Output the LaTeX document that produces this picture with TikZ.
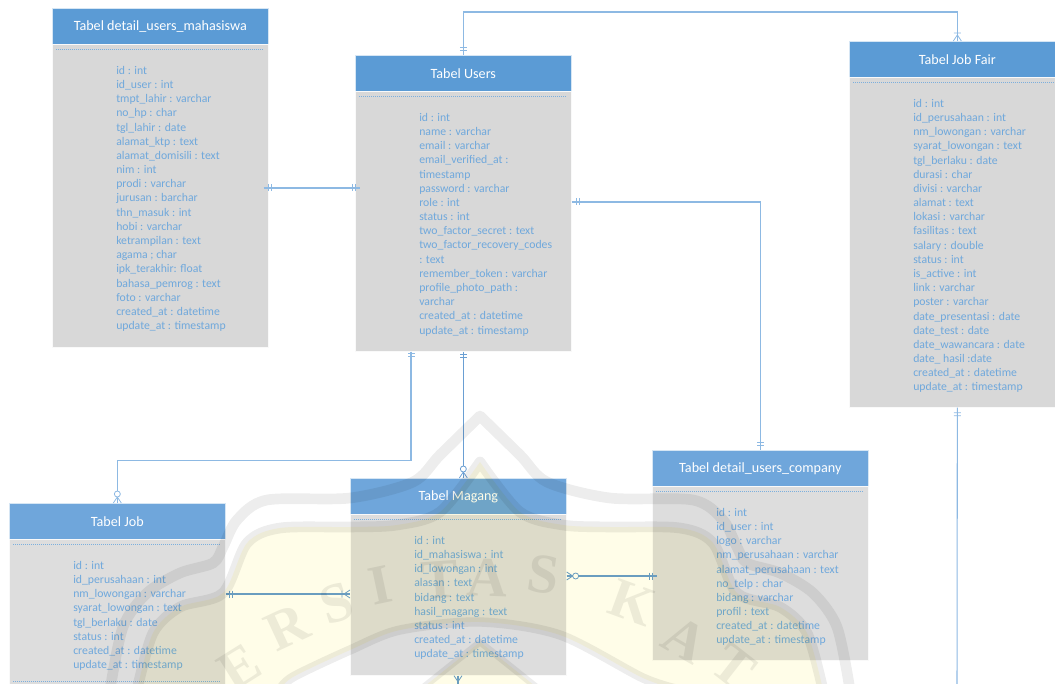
\documentclass[tikz,border=0pt]{standalone}
\usepackage{fontspec}
\setmainfont{Carlito}
\newfontfamily\wmfont{Liberation Serif}
\usetikzlibrary{decorations.markings}
\definecolor{headblue}{HTML}{5B9BD5}
\definecolor{headlight}{HTML}{6FA6DB}
\definecolor{bodygray}{HTML}{D8D8D8}
\definecolor{bodylight}{HTML}{DDDDDD}
\definecolor{rowblue}{HTML}{6FA8DC}
\definecolor{linkblue}{HTML}{8DB9E3}
\definecolor{linkdark}{HTML}{6A9FD3}
\definecolor{wmgray}{HTML}{EDEDED}
\definecolor{wmyellow}{HTML}{FFFDE8}
\tikzset{
    tabelhead/.style={fill=#1,draw=white!75!headblue,line width=.5pt,text=white,minimum width=162pt,minimum height=27pt,inner sep=0pt,anchor=north west,font=\fontsize{10.6}{12}\selectfont},
    tabelbody/.style={fill=#1,draw=white!85!bodygray,line width=.5pt,minimum width=162pt,inner sep=0pt,anchor=north west},
    tabelrows/.style={text=rowblue,align=left,anchor=north west,inner sep=0pt,font=\fontsize{8.8}{10.63}\selectfont},
    sep/.style={headblue!80,line width=.5pt,densely dotted},
    rel/.style={linkblue,line width=.8pt},
    reldark/.style={linkdark,line width=.8pt},
    relmark/.style={line width=.6pt},
    onestart/.style={postaction={decorate,decoration={markings,mark=at position #1 with {\draw[relmark] (0,-3.5)--(0,3.5) (3,-3.5)--(3,3.5);}}}},
    onestart/.default=3.75pt,
    oneend/.style={postaction={decorate,decoration={markings,mark=at position -#1 with {\draw[relmark] (0,-3.5)--(0,3.5) (-3,-3.5)--(-3,3.5);}}}},
    oneend/.default=3.75pt,
    onemanyend/.style={postaction={decorate,decoration={markings,mark=at position -4.5pt with {\draw[relmark] (0,0)--(6,-4) (0,0)--(6,4) (-2,-3.5)--(-2,3.5);}}}},
    zeromanyend/.style={postaction={decorate,decoration={markings,mark=at position -4.5pt with {\draw[relmark] (0,0)--(6,-4) (0,0)--(6,4); \draw[relmark,fill=white] (-3,0) circle(3);}}}},
    zeromanystart/.style={postaction={decorate,decoration={markings,mark=at position 4.5pt with {\draw[relmark] (0,0)--(-6,-4) (0,0)--(-6,4); \draw[relmark,fill=white] (3,0) circle(3);}}}},
    manystart/.style={postaction={decorate,decoration={markings,mark=at position 4.5pt with {\draw[relmark] (0,0)--(-6,-4) (0,0)--(-6,4);}}}},
    wmband/.style={wmgray,line width=8pt,line join=round},
    wmletter/.style={text=wmgray,font=\wmfont\bfseries\fontsize{42}{42}\selectfont,inner sep=0pt},
}
% name, x, y of header, height of body, head colour, body colour, title, rows
\newcommand{\tabel}[8]{
    \node[tabelhead=#5] (#1head) at (#2,#3) {#7};
    \node[tabelbody=#6,minimum height=#4*.75pt] (#1body) at (#2,#3+36) {};
    \draw[sep] (#2+4,#3+41) -- (#2+212,#3+41);
    \node[tabelrows] (#1rows) at (#2+64,#3+58) {#8};
}
\begin{document}
\begin{tikzpicture}[x=.75pt,y=-.75pt]
    \useasboundingbox (0,0) rectangle (1055,684);
    \tabel{mhs}{52}{8}{303}{headblue}{bodygray}{Tabel detail\_users\_mahasiswa}{id : int\\id\_user : int\\tmpt\_lahir : varchar\\no\_hp : char\\tgl\_lahir : date\\alamat\_ktp : text\\alamat\_domisili : text\\nim : int\\prodi : varchar\\jurusan : barchar\\thn\_masuk : int\\hobi : varchar\\ketrampilan : text\\agama ; char\\ipk\_terakhir: float\\bahasa\_pemrog : text\\foto : varchar\\created\_at : datetime\\update\_at : timestamp}
    \tabel{users}{355}{55}{260}{headblue}{bodygray}{Tabel Users}{id : int\\name : varchar\\email : varchar\\email\_verified\_at :\\timestamp\\password : varchar\\role : int\\status : int\\two\_factor\_secret : text\\two\_factor\_recovery\_codes\\: text\\remember\_token : varchar\\profile\_photo\_path :\\varchar\\created\_at : datetime\\update\_at : timestamp}
    \tabel{fair}{849}{41}{330}{headblue}{bodygray}{Tabel Job Fair}{id : int\\id\_perusahaan : int\\nm\_lowongan : varchar\\syarat\_lowongan : text\\tgl\_berlaku : date\\durasi : char\\divisi : varchar\\alamat : text\\lokasi : varchar\\fasilitas : text\\salary : double\\status : int\\is\_active : int\\link : varchar\\poster : varchar\\date\_presentasi : date\\date\_test : date\\date\_wawancara : date\\date\_ hasil :date\\created\_at : datetime\\update\_at : timestamp}
    \tabel{job}{9}{503}{150}{headlight}{bodylight}{Tabel Job}{id : int\\id\_perusahaan : int\\nm\_lowongan : varchar\\syarat\_lowongan : text\\tgl\_berlaku : date\\status : int\\created\_at : datetime\\update\_at : timestamp}
    \tabel{magang}{350}{478}{161}{headlight}{bodylight}{Tabel Magang}{id : int\\id\_mahasiswa : int\\id\_lowongan : int\\alasan : text\\bidang : text\\hasil\_magang : text\\status : int\\created\_at : datetime\\update\_at : timestamp}
    \tabel{company}{652}{450}{174}{headlight}{bodylight}{Tabel detail\_users\_company}{id : int\\id\_user : int\\logo : varchar\\nm\_perusahaan : varchar\\alamat\_perusahaan : text\\no\_telp : char\\bidang : varchar\\profil : text\\created\_at : datetime\\update\_at : timestamp}
    \draw[sep] (13,681) -- (221,681);
    \coordinate (fairend) at (957,684);
    \coordinate (magangend) at (458,684);
    \draw[rel,onestart,oneend] ([xshift=-3.75pt]mhsbody.east |- 0,188) -- ([xshift=3.75pt]usersbody.west |- 0,188);
    \draw[rel,onestart,onemanyend] (usershead.north) -- ++(0,-43) -| (fairhead.north);
    \draw[rel,onestart,oneend] (usersbody.east |- 0,202) -| (companyhead.north);
    \draw[reldark,onestart=2pt,zeromanyend] (usersbody.south) -- (usersbody.south |- 0,478);
    \draw[rel,onestart=1pt,zeromanyend] (usersbody.south -| 411,0) -- ++(0,109) -| (jobhead.north);
    \draw[reldark,onestart=2.5pt,onemanyend] (jobbody.east |- 0,594) -- (magangbody.west |- 0,594);
    \draw[reldark,zeromanystart,oneend] (magangbody.east |- 0,576) -- ([xshift=3.75pt]companybody.west |- 0,576);
    \draw[rel,onestart] (fairbody.south) -- (fairend);
    \draw[reldark,manystart] (magangbody.south -| magangend) -- (magangend);
    % watermark
    \begin{scope}[blend mode=multiply]
        \fill[wmyellow] plot[smooth] coordinates {(137,690) (153,633) (180,607) (223,593) (247,543) (280,528) (350,527) (397,525) (440,512) (480,462)}
            -- plot[smooth] coordinates {(480,462) (520,512) (563,525) (610,527) (680,528) (713,543) (737,593) (780,607) (807,633) (823,690)}
            -- plot[smooth] coordinates {(680,690) (643,678) (560,635) (480,622) (400,630) (350,650) (293,677) (280,690)} -- cycle;
        \fill[wmyellow] (420,690) -- (480,642) -- (540,690) -- cycle;
        \draw[wmband] plot[smooth] coordinates {(110,690) (123,627) (147,593) (180,573) (213,563) (223,547) (237,520) (267,500) (350,498) (413,482) (440,455) (480,416)}
            -- plot[smooth] coordinates {(480,416) (520,455) (547,482) (610,498) (693,500) (723,520) (737,547) (747,563) (780,573) (813,593) (837,627) (850,690)};
        \draw[wmband] plot[smooth] coordinates {(137,690) (153,633) (180,607) (223,593) (247,543) (280,528) (350,527) (397,525) (440,512) (480,462)}
            -- plot[smooth] coordinates {(480,462) (520,512) (563,525) (610,527) (680,528) (713,543) (737,593) (780,607) (807,633) (823,690)};
        \draw[wmband,line width=7pt] plot[smooth] coordinates {(280,690) (293,677) (350,650) (400,630) (480,622) (560,635) (643,678) (680,690)};
        \draw[wmband,line width=5pt] (420,690) -- (480,642) -- (540,690);
        \node[wmletter,rotate=32] (wme) at (240,667) {E};
        \node[wmletter,rotate=25] (wmr) at (287,627) {R};
        \node[wmletter,rotate=18] (wms) at (337,603) {S};
        \node[wmletter,rotate=12] (wmi) at (380,585) {I};
        \node[wmletter,rotate=4] (wmt) at (440,580) {T};
        \node[wmletter,rotate=-2] (wma) at (487,578) {A};
        \node[wmletter,rotate=-8] (wmss) at (543,575) {S};
        \node[wmletter,rotate=-20] (wmk) at (632,603) {K};
        \node[wmletter,rotate=-30] (wmaa) at (685,640) {A};
        \node[wmletter,rotate=-38] (wmtt) at (733,667) {T};
    \end{scope}
\end{tikzpicture}
\end{document}
